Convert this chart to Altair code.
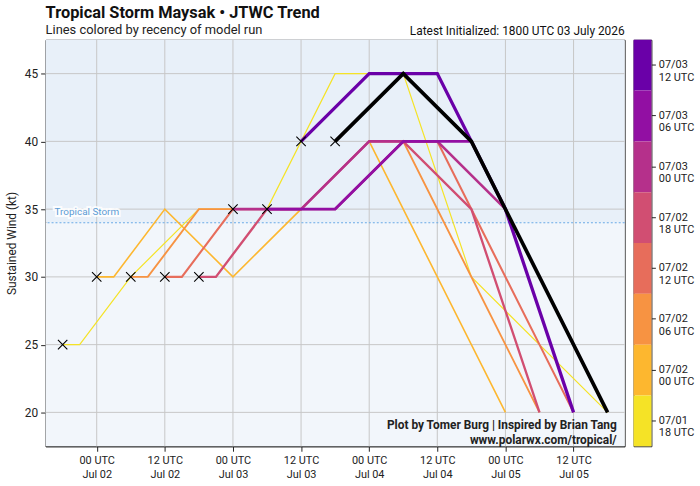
import altair as alt
import pandas as pd

# Model runs, oldest first; the newest run is drawn in black on top.
runs = ["07/01 18 UTC", "07/02 00 UTC", "07/02 06 UTC", "07/02 12 UTC", "07/02 18 UTC",
        "07/03 00 UTC", "07/03 06 UTC", "07/03 12 UTC", "07/03 18 UTC"]
run_colors = ["#f5e326", "#fdb72f", "#f79342", "#e76d5b", "#d14e72",
              "#b5308b", "#920fa3", "#6a00a8", "#000000"]
run_widths = [1.2, 1.6, 1.9, 2.1, 2.35, 2.6, 2.9, 3.3, 3.7]

# Forecast valid times (July 2026, "DD HH" UTC) and sustained winds (kt) per run
run_times = [
    ["01 18", "01 21", "02 06", "02 18", "03 06", "03 18", "04 06", "04 18", "05 18"],
    ["02 00", "02 03", "02 12", "03 00", "03 12", "04 00", "05 00"],
    ["02 06", "02 09", "02 18", "03 06", "03 18", "04 06", "05 06"],
    ["02 12", "02 15", "03 00", "03 12", "04 00", "04 12", "05 12"],
    ["02 18", "02 21", "03 06", "03 18", "04 06", "04 18", "05 06"],
    ["03 00", "03 03", "03 12", "04 00", "04 12", "05 00"],
    ["03 06", "03 09", "03 18", "04 06", "04 18"],
    ["03 12", "04 00", "04 12", "05 00", "05 12"],
    ["03 18", "04 06", "04 18", "05 18"],
]
run_winds = [
    [25, 25, 30, 35, 35, 45, 45, 30, 20],
    [30, 30, 35, 30, 35, 40, 20],
    [30, 30, 35, 35, 35, 40, 20],
    [30, 30, 35, 35, 40, 40, 20],
    [30, 30, 35, 35, 40, 35, 20],
    [35, 35, 35, 40, 40, 35],
    [35, 35, 35, 40, 40],
    [40, 45, 45, 35, 20],
    [40, 45, 40, 20],
]

x_ticks = ["02 00", "02 12", "03 00", "03 12", "04 00", "04 12", "05 00", "05 12"]
y_ticks = [20, 25, 30, 35, 40, 45]
y_range = [17.5, 47.5]
ts_threshold = 34


def iso(dh):
    day, hour = dh.split()
    return f"2026-07-{day}T{hour}:00:00Z"


def dt(day, hour):
    return alt.DateTime(year=2026, month=7, date=day, hours=hour, utc=True)


rows = []
for run, times, winds in zip(runs, run_times, run_winds):
    for t, w in zip(times, winds):
        rows.append({"run": run, "time": iso(t), "wind": w})
tracks = pd.DataFrame(rows)
inits = pd.DataFrame({"time": [iso(t[0]) for t in run_times],
                      "wind": [w[0] for w in run_winds]})

W, H = 584, 410

x_scale = alt.Scale(type="utc", domain=[dt(1, 15), dt(5, 21)])
x_axis = alt.Axis(values=[dt(int(t[:2]), int(t[3:])) for t in x_ticks],
                  labelExpr="[utcFormat(datum.value, '%H UTC'), utcFormat(datum.value, '%b %d')]",
                  labelLineHeight=15, labelFontSize=11, labelColor="#222",
                  tickSize=5, tickColor="#222", domainColor="#222",
                  labelPadding=3, grid=False, title=None)
y_scale = alt.Scale(domain=y_range, nice=False, zero=False)
y_axis = alt.Axis(values=y_ticks, labelFontSize=12, labelColor="#222",
                  tickSize=5, tickColor="#222", domainColor="#222",
                  labelPadding=3, grid=False, title="Sustained Wind (kt)",
                  titleFontSize=12, titleFontWeight="normal",
                  titleColor="#222", titlePadding=6)


def X(field):
    return alt.X(field, scale=x_scale, axis=x_axis)


def Y(field):
    return alt.Y(field, scale=y_scale, axis=y_axis)


# shaded bands below / above tropical-storm strength
bands = pd.DataFrame({"lo": [y_range[0], ts_threshold], "hi": [ts_threshold, y_range[1]],
                      "fill": ["#f2f6fb", "#e8f0f9"]})
band_layer = alt.Chart(bands).mark_rect().encode(
    x=alt.value(0), x2=alt.value(W),
    y=Y("lo:Q"), y2="hi:Q",
    fill=alt.Fill("fill:N", scale=None))

grid_x = alt.Chart(pd.DataFrame({"time": [iso(t) for t in x_ticks]})).mark_rule(
    color="#c6c6c6", strokeWidth=1).encode(x=X("time:T"))
grid_y = alt.Chart(pd.DataFrame({"wind": y_ticks})).mark_rule(
    color="#c6c6c6", strokeWidth=1).encode(y=Y("wind:Q"))

ts_df = pd.DataFrame({"wind": [ts_threshold]})
ts_line = alt.Chart(ts_df).mark_rule(
    color="#6aa9e6", strokeWidth=1.1, strokeDash=[2, 2]).encode(y=Y("wind:Q"))
ts_halo = alt.Chart(ts_df).mark_text(
    text="Tropical Storm", align="left", baseline="middle", dy=-11,
    fontSize=10, stroke="white", strokeWidth=4, strokeOpacity=0.85, fill="white").encode(
    x=alt.value(9), y=Y("wind:Q"))
ts_text = alt.Chart(ts_df).mark_text(
    text="Tropical Storm", align="left", baseline="middle", dy=-11,
    fontSize=10, color="#5b9bd5").encode(x=alt.value(9), y=Y("wind:Q"))

base = alt.Chart(tracks)
line_layers = [
    base.transform_filter(alt.datum.run == run).mark_line(
        color=c, strokeWidth=w, strokeJoin="miter").encode(x=X("time:T"), y=Y("wind:Q"))
    for run, c, w in zip(runs, run_colors, run_widths)
]

markers = alt.Chart(inits).mark_point(
    shape="M-1,-1L1,1M1,-1L-1,1", size=90, filled=False, color="black",
    strokeWidth=1.1, opacity=1).encode(x=X("time:T"), y=Y("wind:Q"))

credit1 = alt.Chart(pd.DataFrame({"t": ["Plot by Tomer Burg | Inspired by Brian Tang"]})).mark_text(
    align="right", baseline="alphabetic", fontSize=12, fontWeight="bold", color="#222").encode(
    text="t:N", x=alt.value(W - 8), y=alt.value(H - 17))
credit2 = alt.Chart(pd.DataFrame({"t": ["www.polarwx.com/tropical/"]})).mark_text(
    align="right", baseline="alphabetic", fontSize=12, fontWeight="bold", color="#222").encode(
    text="t:N", x=alt.value(W - 8), y=alt.value(H - 2))
latest = alt.Chart(pd.DataFrame({"t": ["Latest Initialized: 1800 UTC 03 July 2026"]})).mark_text(
    align="right", baseline="alphabetic", fontSize=12, color="#111").encode(
    text="t:N", x=alt.value(W), y=alt.value(-5))

main = alt.layer(
    band_layer, grid_x, grid_y, ts_line, ts_halo, ts_text,
    *line_layers, markers, credit1, credit2, latest
).properties(
    width=W, height=H,
    title=alt.TitleParams("Tropical Storm Maysak • JTWC Trend",
                          subtitle="Lines colored by recency of model run",
                          anchor="start", frame="group", fontSize=16.5, fontWeight="bold",
                          color="#111", subtitleFontSize=13, subtitleColor="#222",
                          subtitlePadding=2, offset=5, dy=17)
)

# discrete colour bar for the older runs, newest at the top
bar_labels = [r.replace(" ", "|", 1) for r in runs[:8]][::-1]
bar_colors = run_colors[:8][::-1]
colorbar = alt.Chart(pd.DataFrame({"run": bar_labels})).mark_rect().encode(
    x=alt.value(0), x2=alt.value(18),
    y=alt.Y("run:N", sort=bar_labels,
            scale=alt.Scale(paddingInner=0, paddingOuter=0),
            axis=alt.Axis(orient="right", title=None, labelExpr="split(datum.label, '|')",
                          labelFontSize=11, labelLineHeight=12.5, labelColor="#222",
                          tickSize=4, tickColor="#222", domain=False, labelPadding=3,
                          labelBaseline="middle")),
    fill=alt.Fill("run:N", scale=alt.Scale(domain=bar_labels, range=bar_colors), legend=None)
).properties(width=18, height=H)

chart = alt.hconcat(main, colorbar, spacing=6).properties(
    padding={"left": 5, "top": 3, "right": 5, "bottom": 5}
).configure(font="Roboto").configure_view(stroke="#222", strokeWidth=1)

chart.save("out.html", embed_options={"renderer": "svg", "actions": False})
